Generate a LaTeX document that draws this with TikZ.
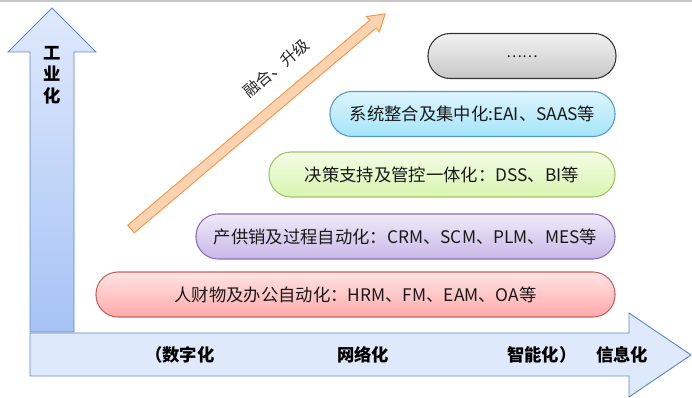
\documentclass[tikz,border=0pt]{standalone}
\usepackage{fontspec}
\newfontfamily\cjk{Noto Sans CJK SC}
\usetikzlibrary{calc}
\definecolor{axisline}{HTML}{5B8BCB}
\definecolor{axislight}{HTML}{DFE9FC}
\definecolor{axisdark}{HTML}{A6C3F5}
\definecolor{orfill}{HTML}{FCD3B0}
\definecolor{ordraw}{HTML}{F79646}
\tikzset{
  lvl/.style={draw, line width=0.8pt, rounded corners=16.5pt, minimum height=33.75pt,
    inner sep=0pt, font=\cjk\fontsize{13}{15}\selectfont, text=black!90},
  axtext/.style={font=\cjk\bfseries\fontsize{13}{15}\selectfont, text=black, inner sep=0pt},
}
\begin{document}
\begin{tikzpicture}[x=0.75pt,y=0.75pt]
\useasboundingbox (0,0) rectangle (692,-398);
\fill[white] (0,0) rectangle (692,-398);
\fill[black!22] (0,0) rectangle (692,-2);
% vertical axis arrow
\path[draw=axisline, line width=0.7pt, top color=axislight, bottom color=axisdark]
  (30,-332) -- (30,-52) -- (8,-52) -- (52,-8) -- (96,-52) -- (74,-52) -- (74,-332) -- cycle;
\node[axtext, align=center] (ind) at (52,-75) {工\\[1pt]业\\[1pt]化};
% horizontal axis arrow
\path[draw=axisline, line width=0.7pt, shading=axis, left color=axislight, middle color=axisdark, right color=axislight]
  (30,-333) -- (629,-333) -- (629,-313) -- (691,-355) -- (629,-397) -- (629,-376) -- (30,-376) -- cycle;
\node[axtext, anchor=west] (dig) at (145,-355) {（数字化};
\node[axtext, anchor=west] (net) at (337,-355) {网络化};
\node[axtext, anchor=west] (intel) at (507,-355) {智能化）};
\node[axtext, anchor=west] (info) at (596,-355) {信息化};
% orange diagonal arrow
\begin{scope}[shift={(131,-229)}, rotate=40.25]
\path[draw=ordraw, fill=orfill, line width=0.7pt]
  (0,-5) -- (317,-5) -- (317,-10) -- (333,0) -- (317,10) -- (317,5) -- (0,5) -- cycle;
\end{scope}
\node[font=\cjk\fontsize{12}{14}\selectfont, rotate=40.25, text=black!85] (fuse) at (276,-68) {融合、升级};
% level boxes
\node[lvl, draw=black!80, top color=black!5, bottom color=black!22, minimum width=188*0.75pt, font=\cjk\fontsize{11}{13}\selectfont] (more) at (522,-56) {\raisebox{-2pt}{……}};
\node[lvl, draw=cyan!60!blue!70, top color={rgb,255:red,222;green,245;blue,253}, bottom color={rgb,255:red,164;green,228;blue,250}, minimum width=285*0.75pt] (sys) at (472.5,-114) {系统整合及集中化:EAI、SAAS等};
\node[lvl, draw={rgb,255:red,160;green,196;blue,100}, top color={rgb,255:red,244;green,252;blue,230}, bottom color={rgb,255:red,216;green,245;blue,176}, minimum width=346*0.75pt] (dec) at (442,-174.5) {决策支持及管控一体化：DSS、BI等};
\node[lvl, draw={rgb,255:red,140;green,110;blue,175}, top color={rgb,255:red,240;green,234;blue,248}, bottom color={rgb,255:red,200;green,184;blue,232}, minimum width=419*0.75pt] (proc) at (405.5,-236.5) {产供销及过程自动化：CRM、SCM、PLM、MES等};
\node[lvl, draw={rgb,255:red,200;green,95;blue,95}, top color={rgb,255:red,255;green,228;blue,228}, bottom color={rgb,255:red,255;green,170;blue,170}, minimum width=519*0.75pt] (hr) at (355.5,-294.5) {人财物及办公自动化：HRM、FM、EAM、OA等};
\end{tikzpicture}
\end{document}
